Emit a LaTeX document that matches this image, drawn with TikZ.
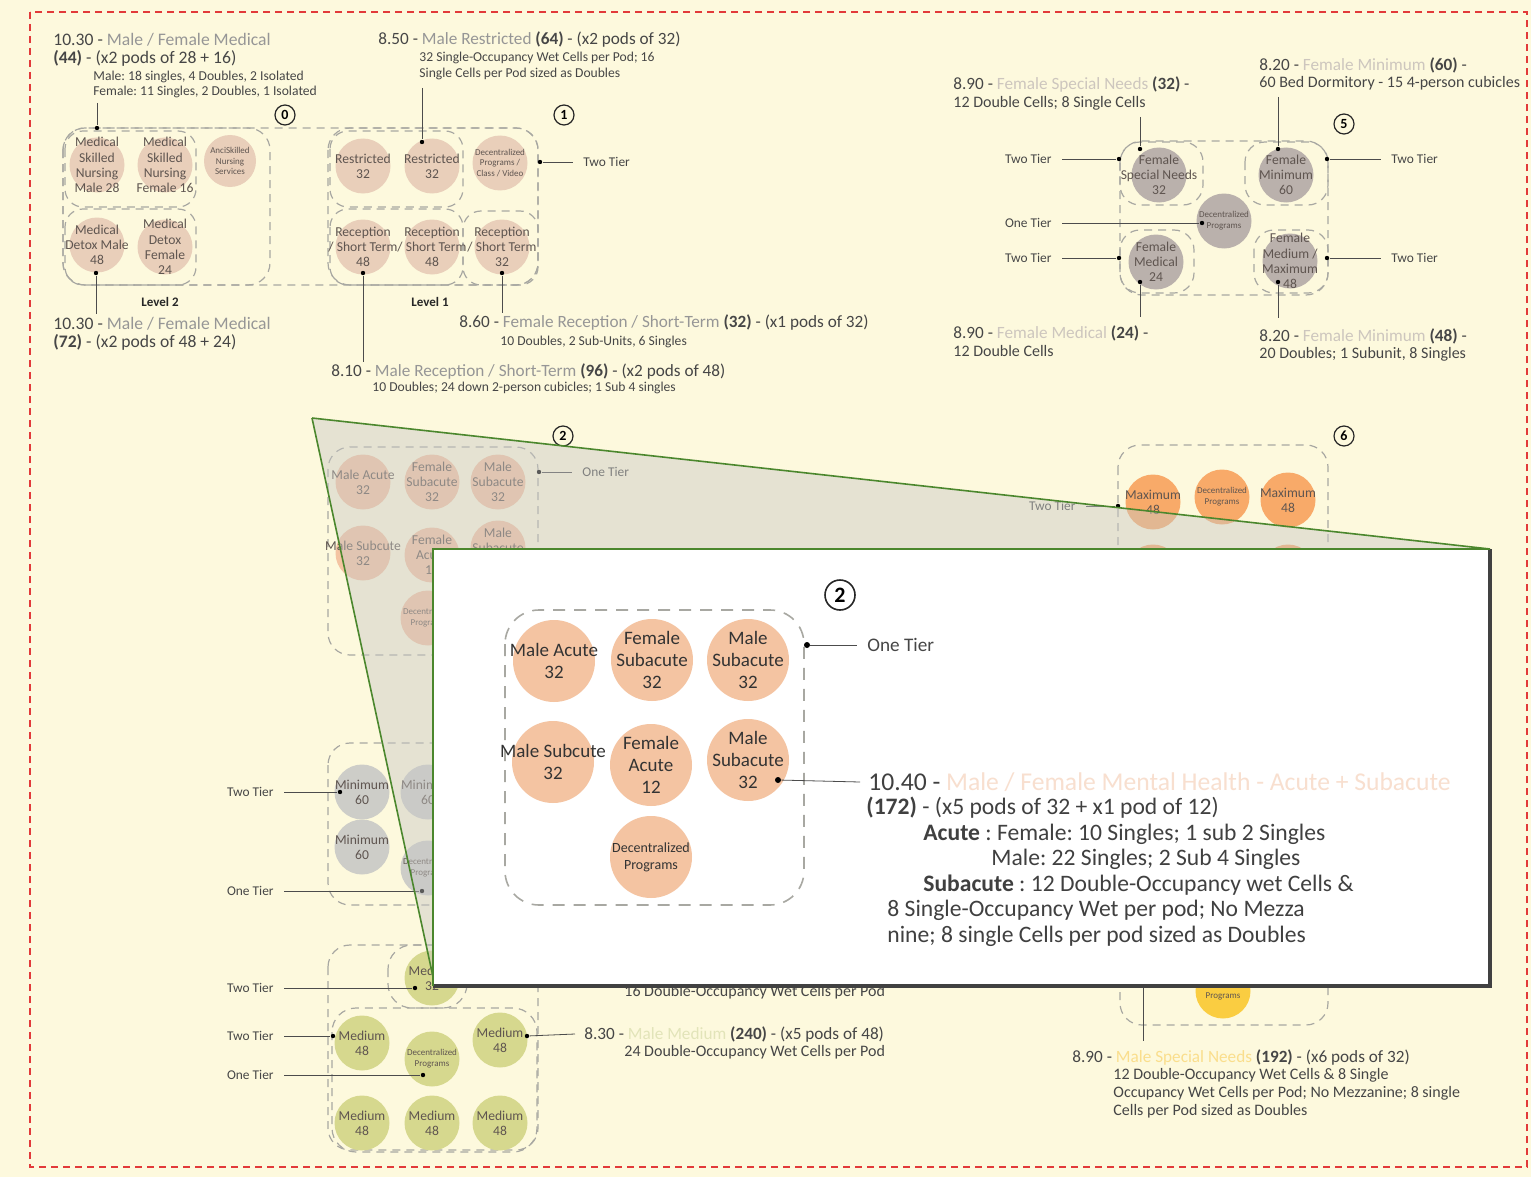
\documentclass[tikz,border=0pt]{standalone}
\usepackage{fontspec}
\setmainfont{Carlito}
\frenchspacing
\definecolor{bgc}{RGB}{253,249,221}
\definecolor{redb}{RGB}{226,58,58}
\definecolor{txt}{RGB}{70,70,70}
\definecolor{midg}{RGB}{150,150,150}
\definecolor{lgray}{RGB}{205,198,190}
\definecolor{peachl}{RGB}{248,223,207}
\definecolor{olivel}{RGB}{226,228,185}
\definecolor{yell}{RGB}{250,222,140}
\definecolor{tanc}{RGB}{233,207,186}
\definecolor{peach}{RGB}{244,196,162}
\definecolor{grayc}{RGB}{186,177,172}
\definecolor{orng}{RGB}{248,170,105}
\definecolor{lgc}{RGB}{205,205,200}
\definecolor{olive}{RGB}{214,216,142}
\definecolor{yelc}{RGB}{250,205,65}
\definecolor{dashc}{RGB}{168,168,162}
\definecolor{grn}{RGB}{75,135,45}
\definecolor{shad}{RGB}{65,65,65}
\definecolor{podtxt}{RGB}{95,85,80}
\definecolor{ovl}{RGB}{200,200,198}
\tikzset{
  pod/.style={circle, inner sep=0pt, minimum size=27.5pt},
  plab/.style={align=center, text=podtxt, font=\fontsize{6.8}{7.6}\selectfont, inner sep=0pt},
  plabs/.style={plab, font=\fontsize{4.5}{5.4}\selectfont},
  ipod/.style={circle, inner sep=0pt, minimum size=41pt, fill=peach},
  iplab/.style={align=center, text=black!80, font=\fontsize{9.5}{10.9}\selectfont, inner sep=0pt},
  iplabs/.style={iplab, font=\fontsize{7}{8.5}\selectfont},
  dashbox/.style={draw=dashc, line width=0.6pt, dash pattern=on 4pt off 3pt, rounded corners=11pt},
  dot/.style={circle, fill=black, inner sep=0pt, minimum size=2.2pt},
  conn/.style={draw=black!70, line width=0.4pt},
  head/.style={anchor=west, inner sep=0pt, text=txt, font=\fontsize{8.6}{10}\selectfont},
  headL/.style={head, font=\fontsize{8.8}{10}\selectfont},
  small/.style={anchor=west, inner sep=0pt, text=txt, font=\fontsize{6.8}{7.6}\selectfont, align=left},
  mid/.style={anchor=west, inner sep=0pt, text=txt, font=\fontsize{8}{9}\selectfont, align=left},
  tier/.style={inner xsep=5pt, inner ysep=0pt, text=txt, font=\fontsize{6.7}{7.5}\selectfont},
  num/.style={circle, draw=black!85, line width=0.6pt, fill=bgc, inner sep=0pt, minimum size=10pt, font=\bfseries\fontsize{7}{8}\selectfont},
  lvl/.style={font=\bfseries\fontsize{6.5}{7.5}\selectfont, text=black!85, inner sep=0pt},
  itext/.style={anchor=west, inner sep=0pt, text=black!75, font=\fontsize{11.8}{13}\selectfont}
}
\begin{document}
\begin{tikzpicture}[x=0.5pt,y=-0.5pt]
\fill[bgc] (0,0) rectangle (1531,1177);
\useasboundingbox (0,0) rectangle (1531,1177);
\draw[redb, line width=1.1pt, dash pattern=on 3.5pt off 2.5pt] (30,12) rectangle (1527,1167);

% ---------------- group 0 and 1 boxes
\draw[dashbox] (63,128) rectangle (538,285);
\draw[dashbox] (63,128) rectangle (270,285);
\draw[dashbox,rounded corners=9pt] (65,131) rectangle (196,207);
\draw[dashbox,rounded corners=9pt] (65,209) rectangle (196,285);
\draw[dashbox] (328,128) rectangle (538,285);
\draw[dashbox,rounded corners=9pt] (330,131) rectangle (463,207);
\draw[dashbox,rounded corners=9pt] (330,209) rectangle (463,285);
\draw[dashbox,rounded corners=9pt] (463,211) rectangle (538,285);

% group 0
\node[headL] (h0a) at (53,40) {10.30 - \textcolor{midg}{Male / Female Medical}};
\node[headL] (h0b) at (53,58) {\textbf{(44)} - (x2 pods of 28 + 16)};
\node[small] (h0c) at (93,84.5) {Male: 18 singles, 4 Doubles, 2 Isolated\\Female: 11 Singles, 2 Doubles, 1 Isolated};
\node[num] (k0) at (285,115) {0};
\node[pod, fill=tanc, label={[plab]center:{Medical\\Skilled\\Nursing\\Male 28}}] (n01) at (97,165) {};
\node[pod, fill=tanc, label={[plab]center:{Medical\\Skilled\\Nursing\\Female 16}}] (n02) at (165,165) {};
\node[pod, fill=tanc, minimum size=26pt, label={[plabs]center:{AnciSkilled\\Nursing\\Services}}] (n03) at (230,161) {};
\node[pod, fill=tanc, label={[plab]center:{Medical\\Detox Male\\48}}] (n04) at (97,245) {};
\node[pod, fill=tanc, label={[plab]center:{Medical\\Detox\\Female\\24}}] (n05) at (165,247) {};
\node[lvl] (lv2) at (160,302) {Level 2};
\coordinate (c0a) at (97,103);
\node[dot] (d0a) at (97,128) {};
\draw[conn] (c0a) -- (d0a);
\node[dot] (d0b) at (96,273) {};
\coordinate (c0b) at (96,314);
\draw[conn] (d0b) -- (c0b);
\node[headL] (h0d) at (53,324) {10.30 - \textcolor{midg}{Male / Female Medical}};
\node[headL] (h0e) at (53,342) {\textbf{(72)} - (x2 pods of 48 + 24)};

% group 1
\node[head] (h1a) at (378,40) {8.50 - \textcolor{midg}{Male Restricted} \textbf{(64)} - (x2 pods of 32)};
\node[small] (h1b) at (419,66) {32 Single-Occupancy Wet Cells per Pod; 16\\Single Cells per Pod sized as Doubles};
\node[num] (k1) at (564,115) {1};
\node[pod, fill=tanc, label={[plab]center:{Restricted\\32}}] (n11) at (363,166) {};
\node[pod, fill=tanc, label={[plab]center:{Restricted\\32}}] (n12) at (432,166) {};
\node[pod, fill=tanc, label={[plabs]center:{Decentralized\\Programs /\\Class / Video}}] (n13) at (500,163) {};
\node[pod, fill=tanc, label={[plab]center:{Reception\\/ Short Term\\48}}] (n14) at (363,247) {};
\node[pod, fill=tanc, label={[plab]center:{Reception\\/ Short Term\\48}}] (n15) at (432,247) {};
\node[pod, fill=tanc, label={[plab]center:{Reception\\/ Short Term\\32}}] (n16) at (502,247) {};
\coordinate (c1a) at (422,88);
\node[dot] (d1a) at (422,142) {};
\draw[conn] (c1a) -- (d1a);
\node[dot] (d1b) at (540,162) {};
\node[tier, anchor=west] (t1) at (573,162) {Two Tier};
\draw[conn] (d1b) -- (t1.west);
\node[lvl] (lv1) at (430,302) {Level 1};
\node[dot] (d1c) at (363,273) {};
\coordinate (c1c) at (363,362);
\draw[conn] (d1c) -- (c1c);
\node[dot] (d1d) at (502,273) {};
\coordinate (c1d) at (502,313);
\draw[conn] (d1d) -- (c1d);
\node[head] (h1e) at (459,323) {8.60 - \textcolor{midg}{Female Reception / Short-Term} \textbf{(32)} - (x1 pods of 32)};
\node[small] (h1f) at (500,342) {10 Doubles, 2 Sub-Units, 6 Singles};
\node[head] (h1c) at (331,371) {8.10 - \textcolor{midg}{Male Reception / Short-Term} \textbf{(96)} - (x2 pods of 48)};
\node[small] (h1d) at (372,388) {10 Doubles; 24 down 2-person cubicles; 1 Sub 4 singles};

% ---------------- group 5
\draw[dashbox] (1120,141) rectangle (1328,295);
\draw[dashbox,rounded corners=10pt] (1120,142) rectangle (1203,205);
\draw[dashbox,rounded corners=10pt] (1245,142) rectangle (1328,205);
\draw[dashbox,rounded corners=10pt] (1120,230) rectangle (1194,293);
\draw[dashbox,rounded corners=10pt] (1254,230) rectangle (1328,293);
\node[head] (h5a) at (953,85) {8.90 - \textcolor{lgray}{Female Special Needs} \textbf{(32)} -};
\node[mid] (h5b) at (953,103) {12 Double Cells; 8 Single Cells};
\node[head] (h5c) at (1259,65) {8.20 - \textcolor{lgray}{Female Minimum} \textbf{(60)} -};
\node[mid] (h5d) at (1259,83) {60 Bed Dormitory - 15 4-person cubicles};
\node[num] (k5) at (1344,124) {5};
\node[pod, fill=grayc, label={[plab]center:{Female\\Special Needs\\32}}] (n51) at (1159,175) {};
\node[pod, fill=grayc, label={[plab]center:{Female\\Minimum\\60}}] (n52) at (1286,175) {};
\node[pod, fill=grayc, label={[plabs]center:{Decentralized\\Programs}}] (n53) at (1224,221) {};
\node[pod, fill=grayc, label={[plab]center:{Female\\Medical\\24}}] (n54) at (1156,262) {};
\node[pod, fill=grayc, label={[plab]center:{Female\\Medium /\\Maximum\\48}}] (n55) at (1290,261) {};
\node[dot] (d5a) at (1119,159) {};
\node[dot] (d5b) at (1202,223) {};
\node[dot] (d5c) at (1119,258) {};
\node[dot] (d5d) at (1327,159) {};
\node[dot] (d5e) at (1327,258) {};
\node[dot] (d5f) at (1140,149) {};
\node[dot] (d5g) at (1278,149) {};
\node[dot] (d5h) at (1140,282) {};
\node[dot] (d5i) at (1278,282) {};
\node[tier, anchor=east] (t5a) at (1062,159) {Two Tier};
\node[tier, anchor=east] (t5b) at (1062,223) {One Tier};
\node[tier, anchor=east] (t5c) at (1062,258) {Two Tier};
\node[tier, anchor=west] (t5d) at (1381,159) {Two Tier};
\node[tier, anchor=west] (t5e) at (1381,258) {Two Tier};
\draw[conn] (t5a.east) -- (d5a);
\draw[conn] (t5b.east) -- (d5b);
\draw[conn] (t5c.east) -- (d5c);
\draw[conn] (d5d) -- (t5d.west);
\draw[conn] (d5e) -- (t5e.west);
\coordinate (c5f) at (1140,117);
\coordinate (c5g) at (1278,97);
\coordinate (c5h) at (1140,317);
\coordinate (c5i) at (1278,318);
\draw[conn] (c5f) -- (d5f);
\draw[conn] (c5g) -- (d5g);
\draw[conn] (d5h) -- (c5h);
\draw[conn] (d5i) -- (c5i);
\node[head] (h5e) at (953,333) {8.90 - \textcolor{lgray}{Female Medical} \textbf{(24)} -};
\node[mid] (h5f) at (953,351) {12 Double Cells};
\node[head] (h5g) at (1259,336) {8.20 - \textcolor{lgray}{Female Minimum} \textbf{(48)} -};
\node[mid] (h5h) at (1259,354) {20 Doubles; 1 Subunit, 8 Singles};

% ---------------- group 2 (background)
\draw[dashbox] (328,447) rectangle (538,655);
\node[num] (k2) at (563,436) {2};
\node[pod, fill=peach, label={[plab]center:{Male Acute\\32}}] (n21) at (363,482) {};
\node[pod, fill=peach, label={[plab]center:{Female\\Subacute\\32}}] (n22) at (432,482) {};
\node[pod, fill=peach, label={[plab]center:{Male\\Subacute\\32}}] (n23) at (498,482) {};
\node[pod, fill=peach, label={[plab]center:{Male Subcute\\32}}] (n24) at (363,553) {};
\node[pod, fill=peach, label={[plab]center:{Female\\Acute\\12}}] (n25) at (432,555) {};
\node[pod, fill=peach, label={[plab]center:{Male\\Subacute\\32}}] (n26) at (498,548) {};
\node[pod, fill=peach, label={[plabs]center:{Decentralized\\Programs}}] (n27) at (428,618) {};
\node[dot] (d2a) at (539,472) {};
\node[tier, anchor=west] (t2a) at (572,472) {One Tier};
\draw[conn] (d2a) -- (t2a.west);

% ---------------- group 6
\draw[dashbox] (1118,445) rectangle (1328,640);
\node[num] (k6) at (1344,436) {6};
\node[pod, fill=orng, label={[plab]center:{Maximum\\48}}] (n61) at (1153,502) {};
\node[pod, fill=orng, label={[plabs]center:{Decentralized\\Programs}}] (n62) at (1222,497) {};
\node[pod, fill=orng, label={[plab]center:{Maximum\\48}}] (n63) at (1288,500) {};
\node[pod, fill=orng] (n64) at (1153,572) {};
\node[pod, fill=orng] (n65) at (1288,572) {};
\node[dot] (d6a) at (1118,506) {};
\node[tier, anchor=east] (t6a) at (1086,506) {Two Tier};
\draw[conn] (t6a.east) -- (d6a);

% ---------------- group 7 (yellow, bottom right)
\draw[dashbox] (1120,900) rectangle (1328,1025);
\node[pod, fill=yelc, label={[plabs]center:{Decentralized\\Programs}}] (n71) at (1223,991) {};
\coordinate (c7a) at (1143,960);
\coordinate (c7b) at (1143,1041);
\draw[conn] (c7a) -- (c7b);
\node[head] (h7a) at (1072,1057) {8.90 - \textcolor{yell}{Male Special Needs} \textbf{(192)} - (x6 pods of 32)};
\node[small, font=\fontsize{8}{9}\selectfont] (h7b) at (1113,1093) {12 Double-Occupancy Wet Cells \& 8 Single\\Occupancy Wet Cells per Pod; No Mezzanine; 8 single\\Cells per Pod sized as Doubles};

% ---------------- group 3 (minimum)
\draw[dashbox] (328,743) rectangle (540,905);
\node[pod, fill=lgc, label={[plab]center:{Minimum\\60}}] (n31) at (362,792) {};
\node[pod, fill=lgc, label={[plab]center:{Minimum\\60}}] (n32) at (428,792) {};
\node[pod, fill=lgc, label={[plab]center:{Minimum\\60}}] (n33) at (362,847) {};
\node[pod, fill=lgc, label={[plabs]center:{Decentralized\\Programs}}] (n34) at (428,868) {};
\node[dot] (d3a) at (340,792) {};
\node[dot] (d3b) at (422,891) {};
\node[tier, anchor=east] (t3a) at (284,792) {Two Tier};
\node[tier, anchor=east] (t3b) at (284,891) {One Tier};
\draw[conn] (t3a.east) -- (d3a);
\draw[conn] (t3b.east) -- (d3b);

% ---------------- group 4 (medium)
\draw[dashbox] (328,945) rectangle (538,1150);
\draw[dashbox,rounded corners=12pt] (388,945) rectangle (467,1008);
\draw[dashbox,rounded corners=12pt] (332,1008) rectangle (537,1152);
\node[pod, fill=olive, label={[plab]center:{Medium\\32}}] (n41) at (432,978) {};
\node[pod, fill=olive, label={[plab]center:{Medium\\48}}] (n42) at (362,1043) {};
\node[pod, fill=olive, label={[plabs]center:{Decentralized\\Programs}}] (n43) at (432,1059) {};
\node[pod, fill=olive, label={[plab]center:{Medium\\48}}] (n44) at (500,1040) {};
\node[pod, fill=olive, label={[plab]center:{Medium\\48}}] (n45) at (362,1123) {};
\node[pod, fill=olive, label={[plab]center:{Medium\\48}}] (n46) at (432,1123) {};
\node[pod, fill=olive, label={[plab]center:{Medium\\48}}] (n47) at (500,1123) {};
\node[dot] (d4a) at (415,988) {};
\node[dot] (d4b) at (333,1036) {};
\node[dot] (d4c) at (423,1075) {};
\node[dot] (d4d) at (527,1036) {};
\node[tier, anchor=east] (t4a) at (284,988) {Two Tier};
\node[tier, anchor=east] (t4b) at (284,1036) {Two Tier};
\node[tier, anchor=east] (t4c) at (284,1075) {One Tier};
\draw[conn] (t4a.east) -- (d4a);
\draw[conn] (t4b.east) -- (d4b);
\draw[conn] (t4c.east) -- (d4c);
\node[head, inner xsep=4.5pt] (h4a) at (575,1034) {8.30 - \textcolor{olivel}{Male Medium} \textbf{(240)} - (x5 pods of 48)};
\draw[conn] (d4d) -- (h4a.west);
\node[head, font=\fontsize{8}{9}\selectfont] (h4b) at (624,1052) {24 Double-Occupancy Wet Cells per Pod};
\node[head, font=\fontsize{8}{9}\selectfont] (h4c) at (624,992) {16 Double-Occupancy Wet Cells per Pod};

% ---------------- zoom overlay
\fill[ovl, fill opacity=0.45] (312,418) -- (1490,549) -- (1490,986) -- (435,986) -- cycle;
\coordinate (zA) at (312,418);
\coordinate (zB) at (1490,549);
\coordinate (zC) at (435,986);
\draw[grn, line width=0.8pt] (zA) -- (zB);
\draw[grn, line width=0.8pt] (zA) -- (zC);

% ---------------- inset
\fill[white] (433,549) rectangle (1490,986);
\draw[shad, line width=2pt] (1490,549) -- (1490,986) -- (433,986);
\draw[grn, line width=1pt] (433,986) -- (433,549) -- (1490,549);
\node[num, minimum size=15pt, line width=0.8pt, fill=white, font=\bfseries\fontsize{11}{12}\selectfont] (ik) at (840,595) {2};
\draw[dashbox, line width=0.8pt, dash pattern=on 6pt off 4.5pt, rounded corners=17pt] (505,610) rectangle (804,905);
\node[ipod, label={[iplab]center:{Male Acute\\32}}] (i1) at (554,661) {};
\node[ipod, label={[iplab]center:{Female\\Subacute\\32}}] (i2) at (652,660) {};
\node[ipod, label={[iplab]center:{Male\\Subacute\\32}}] (i3) at (748,660) {};
\node[ipod, label={[iplab]center:{Male Subcute\\32}}] (i4) at (553,762) {};
\node[ipod, label={[iplab]center:{Female\\Acute\\12}}] (i5) at (651,765) {};
\node[ipod, label={[iplab]center:{Male\\Subacute\\32}}] (i6) at (748,760) {};
\node[ipod, label={[iplabs]center:{Decentralized\\Programs}}] (i7) at (651,857) {};
\node[dot, minimum size=3pt] (id1) at (807,645) {};
\node[tier, anchor=west, font=\fontsize{9.6}{11}\selectfont] (it1) at (857,645) {One Tier};
\draw[conn] (id1) -- (it1.west);
\node[dot, minimum size=3pt] (id2) at (778,780) {};
\node[itext, inner xsep=4pt, font=\fontsize{12.8}{13}\selectfont] (ia) at (860,782) {10.40 - \textcolor{peachl}{Male / Female Mental Health - Acute + Subacute}};
\draw[conn] (id2) -- (ia.west);
\node[itext] (ib) at (866,808) {\textbf{(172)} - (x5 pods of 32 + x1 pod of 12)};
\node[itext] (ic) at (923,834) {\textbf{Acute} : Female: 10 Singles; 1 sub 2 Singles};
\node[itext] (id) at (991,859) {Male: 22 Singles; 2 Sub 4 Singles};
\node[itext] (ie) at (923,885) {\textbf{Subacute} : 12 Double-Occupancy wet Cells \&};
\node[itext] (if) at (887,910) {8 Single-Occupancy Wet per pod; No Mezza};
\node[itext] (ig) at (887,936) {nine; 8 single Cells per pod sized as Doubles};
\end{tikzpicture}
\end{document}
